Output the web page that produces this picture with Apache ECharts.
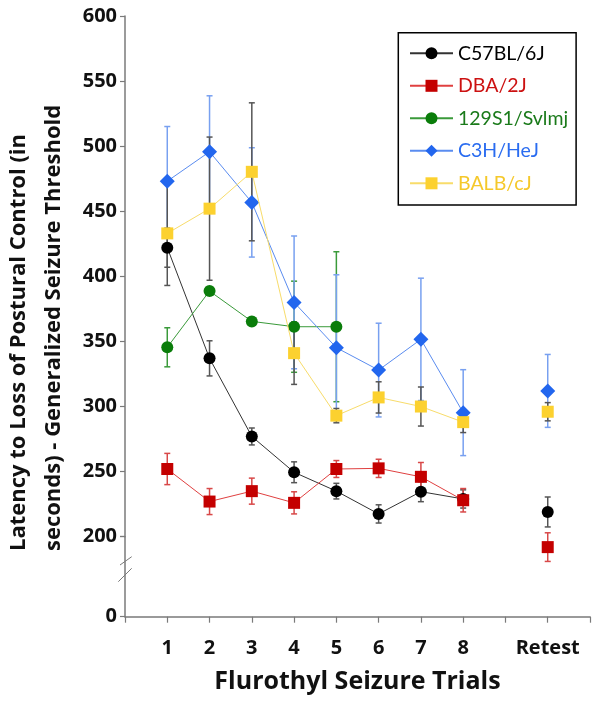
<!DOCTYPE html>
<html>
<head>
<meta charset="utf-8">
<script src="https://cdn.jsdelivr.net/npm/echarts@6/dist/echarts.min.js"></script>
<style>
html,body{margin:0;padding:0;background:#fff;}
#chart{width:601px;height:704px;}
</style>
</head>
<body>
<div id="chart"></div>
<script>
// ---- data ----
const trials = [1, 2, 3, 4, 5, 6, 7, 8];
const retestX = 10;
const xTickPositions = [1, 2, 3, 4, 5, 6, 7, 8, 10];
const xTickLabels = ['1', '2', '3', '4', '5', '6', '7', '8', 'Retest'];
const yTicksUpper = [200, 250, 300, 350, 400, 450, 500, 550, 600];
const yTicksLower = [0];

const strains = ['C57BL/6J', 'DBA/2J', '129S1/Svlmj', 'C3H/HeJ', 'BALB/cJ'];

const c57Mean = [422, 337, 277, 249.5, 235, 217.5, 234.6, 229];
const c57Err = [15, 13.5, 6.5, 8, 6, 7, 7.7, 7];
const c57Retest = 219, c57RetestErr = 11.5;

const dbaMean = [252, 227, 235, 226, 252, 252.5, 246, 228];
const dbaErr = [12, 10, 10, 8.5, 6.5, 7, 11, 9];
const dbaRetest = 192, dbaRetestErr = 11;

const s129Mean = [345.5, 388.7, 365.4, 361.3, 361.3];
const s129Err = [15, 3, 3, 35, 57.6];
const s129Retest = null, s129RetestErr = null;

const c3hMean = [473.1, 495.7, 456.8, 380, 345.2, 328, 351.6, 295.3];
const c3hErr = [42, 43, 42, 51, 56, 36, 47, 33];
const c3hRetest = 312, c3hRetestErr = 28;

const balbMean = [433, 452, 480.3, 341, 293, 307, 300, 288];
const balbErr = [40, 55, 53, 24, 5.5, 12, 15, 8];
const balbRetest = 296, balbRetestErr = 7;

// ---- styles ----
const FONT = '"Open Sans", Lato, "DejaVu Sans", sans-serif';
const LFONT = 'Lato, "Open Sans", sans-serif';
const styles = [
  {marker: '#000000', line: '#333333', err: '#555555', text: '#000000', symbol: 'circle', size: 12},
  {marker: '#c40000', line: '#e04040', err: '#d84848', text: '#cc1111', symbol: 'rect', size: 12},
  {marker: '#0a7d0a', line: '#3a9a3a', err: '#3a9a3a', text: '#1a7a1a', symbol: 'circle', size: 12},
  {marker: '#2266ee', line: '#5a8cf0', err: '#78a0f0', text: '#2a6cf0', symbol: 'diamond', size: 15},
  {marker: '#fcd12f', line: '#f8dc6a', err: '#555555', text: '#f5c82a', symbol: 'rect', size: 12}
];
const means = [c57Mean, dbaMean, s129Mean, c3hMean, balbMean];
const errs = [c57Err, dbaErr, s129Err, c3hErr, balbErr];
const retests = [c57Retest, dbaRetest, s129Retest, c3hRetest, balbRetest];
const retestErrs = [c57RetestErr, dbaRetestErr, s129RetestErr, c3hRetestErr, balbRetestErr];

function lineData(i) {
  const d = means[i].map((m, k) => [trials[k], m]);
  if (retests[i] != null) {
    d.push([9, '-']);
    d.push([retestX, retests[i]]);
  }
  return d;
}
function errData(i) {
  const d = means[i].map((m, k) => [trials[k], m - errs[i][k], m + errs[i][k]]);
  if (retests[i] != null) d.push([retestX, retests[i] - retestErrs[i], retests[i] + retestErrs[i]]);
  return d;
}
function errRender(color) {
  return function (params, api) {
    const x = api.value(0), lo = api.value(1), hi = api.value(2);
    const p1 = api.coord([x, lo]), p2 = api.coord([x, hi]);
    const w = 3;
    const st = {stroke: color, lineWidth: 1.5};
    return {
      type: 'group',
      children: [
        {type: 'line', shape: {x1: p1[0], y1: p1[1], x2: p2[0], y2: p2[1]}, style: st},
        {type: 'line', shape: {x1: p1[0] - w, y1: p1[1], x2: p1[0] + w, y2: p1[1]}, style: st},
        {type: 'line', shape: {x1: p2[0] - w, y1: p2[1], x2: p2[0] + w, y2: p2[1]}, style: st}
      ]
    };
  };
}

const series = [];
strains.forEach((name, i) => {
  series.push({
    type: 'custom', name: name + ' err', xAxisIndex: 0, yAxisIndex: 0,
    renderItem: errRender(styles[i].err), data: errData(i), z: 1, silent: true,
    encode: {x: 0, y: [1, 2]}, clip: false
  });
});
strains.forEach((name, i) => {
  series.push({
    type: 'line', name: name, xAxisIndex: 0, yAxisIndex: 0,
    data: lineData(i), clip: false, connectNulls: false,
    symbol: styles[i].symbol, symbolSize: styles[i].size,
    itemStyle: {color: styles[i].marker},
    lineStyle: {color: styles[i].line, width: 1},
    z: 2 + i, animation: false
  });
});

const axisGray = '#7a7a7a';
const chart = echarts.init(document.getElementById('chart'), null, {renderer: 'canvas'});
chart.setOption({
  animation: false,
  backgroundColor: '#ffffff',
  grid: [
    {left: 125, top: 16, width: 465, height: 520.7},
    {left: 125, top: 536.7, width: 465, height: 80}
  ],
  xAxis: [
    {gridIndex: 0, type: 'value', min: 0, max: 11, interval: 1, show: false},
    {gridIndex: 1, type: 'value', min: 0, max: 11, interval: 1,
      axisLine: {lineStyle: {color: axisGray, width: 1.5}},
      axisTick: {length: 6, lineStyle: {color: axisGray, width: 1.2}},
      splitLine: {show: false},
      axisLabel: {
        margin: 22, fontSize: 20, fontWeight: 'bold', fontFamily: FONT, color: '#111',
        formatter: v => { const k = xTickPositions.indexOf(v); return k >= 0 ? xTickLabels[k] : ''; }
      },
      name: 'Flurothyl Seizure Trials', nameLocation: 'middle', nameGap: 53,
      nameTextStyle: {fontSize: 25, fontWeight: 'bold', fontFamily: FONT, color: '#111'}
    }
  ],
  yAxis: [
    {gridIndex: 0, type: 'value', min: 200, max: 600, interval: 50,
      axisLine: {show: true, lineStyle: {color: axisGray, width: 1.5}},
      axisTick: {show: true, length: 5, lineStyle: {color: axisGray, width: 1.2}},
      splitLine: {show: false},
      axisLabel: {margin: 8, fontSize: 20, fontWeight: 'bold', fontFamily: FONT, color: '#111',
        formatter: v => yTicksUpper.indexOf(v) >= 0 ? String(v) : ''}
    },
    {gridIndex: 1, type: 'value', min: 0, max: 200, interval: 200,
      axisLine: {show: true, lineStyle: {color: axisGray, width: 1.5}},
      axisTick: {show: true, length: 5, lineStyle: {color: axisGray, width: 1.2}},
      splitLine: {show: false},
      axisLabel: {margin: 8, fontSize: 20, fontWeight: 'bold', fontFamily: FONT, color: '#111',
        formatter: v => yTicksLower.indexOf(v) >= 0 ? String(v) : ''}
    }
  ],
  legend: {
    orient: 'vertical', left: 398.3, top: 32.7,
    padding: [10.6, 8, 11.7, 10.7],
    itemWidth: 43, itemHeight: 15, itemGap: 12.5,
    borderColor: '#000', borderWidth: 1.5, backgroundColor: '#fff',
    textStyle: {fontSize: 19.5, fontFamily: LFONT, lineHeight: 20},
    data: strains.map((n, i) => ({name: n, textStyle: {color: styles[i].text}}))
  },
  graphic: [
    {type: 'text', x: 36, y: 551, rotation: Math.PI / 2,
      style: {text: 'Latency to Loss of Postural Control (in\nseconds) - Generalized Seizure Threshold',
        font: 'bold 22px ' + FONT, fill: '#111', textAlign: 'left', textVerticalAlign: 'middle', lineHeight: 35}},
    {type: 'line', shape: {x1: 120, y1: 565, x2: 131.7, y2: 556.7}, style: {stroke: axisGray, lineWidth: 1}},
    {type: 'line', shape: {x1: 118.3, y1: 581.7, x2: 131.7, y2: 568.3}, style: {stroke: axisGray, lineWidth: 1}}
  ],
  series: series
});
</script>
</body>
</html>
